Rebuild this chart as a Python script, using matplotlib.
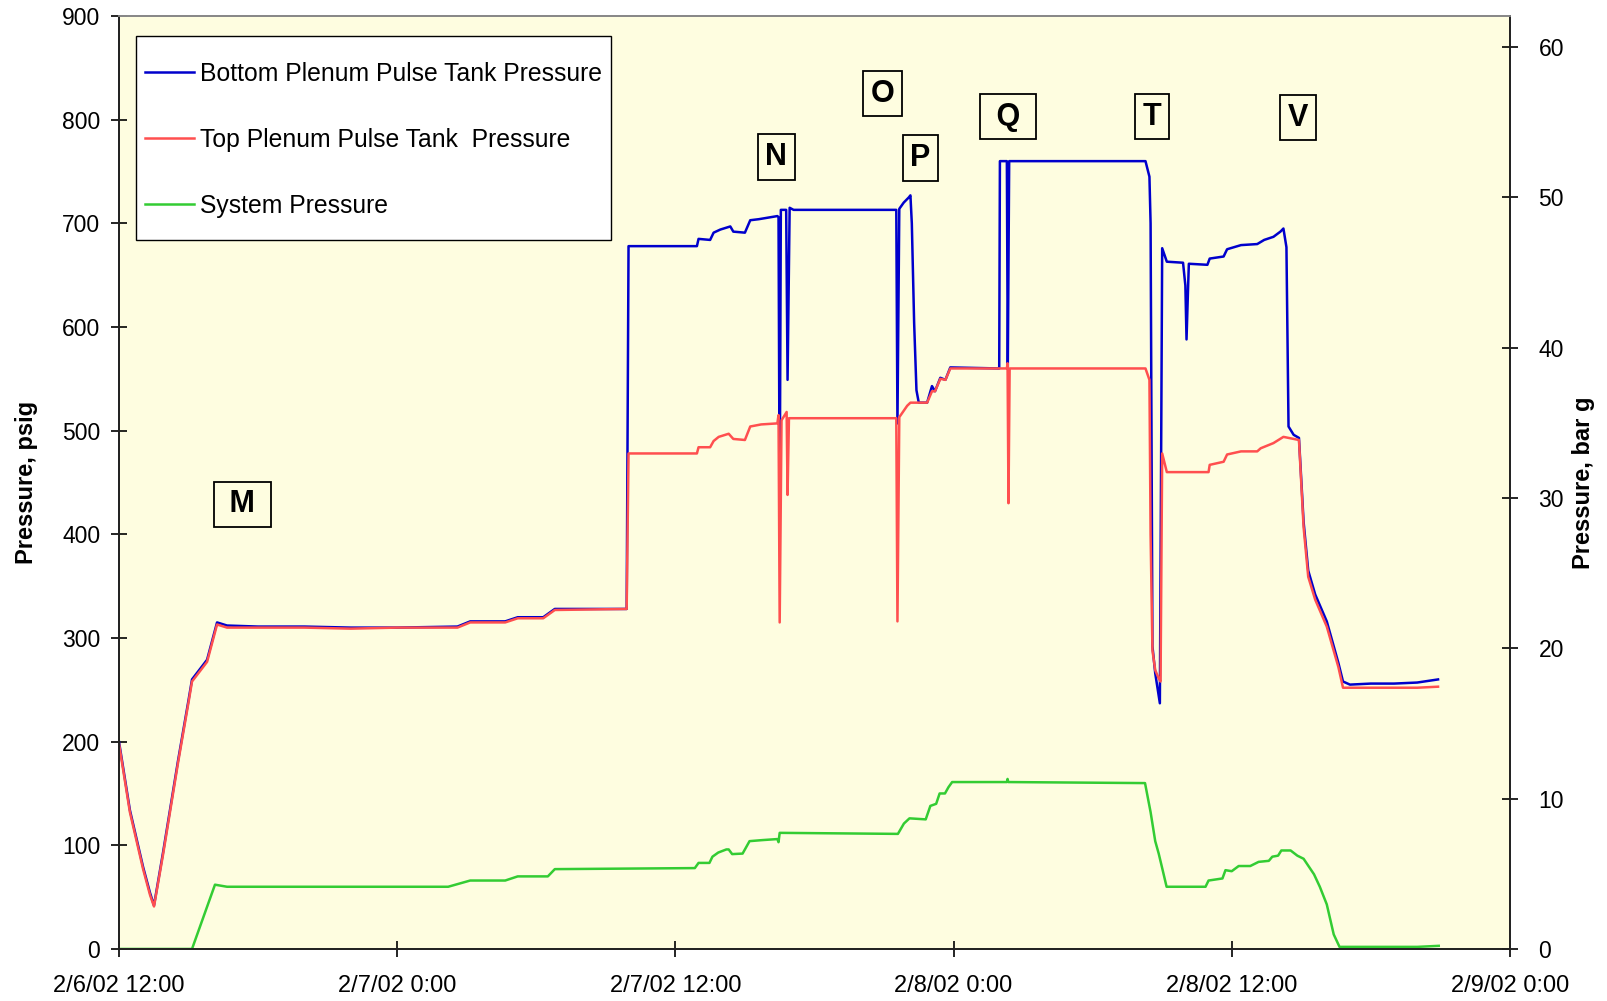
import matplotlib
matplotlib.use("Agg")
import matplotlib.pyplot as plt
from matplotlib.patches import Rectangle

plt.rcParams["font.family"] = ["Liberation Sans", "DejaVu Sans"]

# hours after 2/6/02 12:00
TICK_HOURS = [0, 12, 24, 36, 48, 60]
TICK_LABELS = ["2/6/02 12:00", "2/7/02 0:00", "2/7/02 12:00",
               "2/8/02 0:00", "2/8/02 12:00", "2/9/02 0:00"]

BOTTOM_T = [0, 0.47, 1.04, 1.34, 1.51, 1.9, 2.55, 3.0, 3.15, 3.63, 3.8, 4.23, 4.66,
            6, 8, 10, 12, 14.6, 15.15, 16.66, 17.2, 18.3, 18.8, 21.9, 21.98,
            24.93, 25.0, 25.5, 25.65, 25.94, 26.37, 26.5, 27.0, 27.23, 27.6, 28.4,
            28.45, 28.5, 28.55, 28.78, 28.84, 28.93, 29.1, 33.53, 33.58, 33.66,
            33.85, 34.07, 34.14, 34.2, 34.3, 34.4, 34.5, 34.86, 35.07, 35.2, 35.43,
            35.65, 35.86, 37.97, 38.0, 38.3, 38.34, 38.4, 44.28, 44.45, 44.5,
            44.58, 44.7, 44.9, 45.0, 45.2, 45.9, 46.0, 46.05, 46.12, 46.15, 46.95,
            47.05, 47.65, 47.8, 48.4, 49.1, 49.4, 49.8, 50.1, 50.23, 50.36, 50.45,
            50.67, 50.9, 51.1, 51.3, 51.6, 52.1, 52.6, 52.8, 53.1, 54, 55, 56, 56.9]
BOTTOM_P = [200, 134, 79, 54, 42, 93, 182, 240, 260, 274, 279, 315, 312,
            311, 311, 310, 310, 311, 316, 316, 320, 320, 328, 328, 678,
            678, 685, 684, 691, 694, 697, 692, 691, 703, 704, 707,
            706, 422, 713, 713, 549, 715, 713, 713, 507, 714,
            720, 725, 727, 700, 604, 539, 527, 527, 543, 538, 551,
            549, 561, 560, 760, 760, 560, 760, 760, 745, 700,
            292, 266, 237, 676, 663, 662, 640, 588, 640, 661, 660,
            666, 668, 675, 679, 680, 684, 687, 692, 695, 677, 504,
            496, 493, 412, 365, 342, 316, 276, 258, 255, 256, 256, 257, 260]

TOP_T = [0, 0.47, 1.04, 1.34, 1.51, 1.9, 2.55, 3.0, 3.15, 3.63, 3.8, 4.23, 4.66,
         6, 8, 10, 12, 14.6, 15.15, 16.66, 17.2, 18.3, 18.8, 21.9, 21.98,
         24.93, 25.0, 25.5, 25.65, 25.87, 26.3, 26.5, 27.0, 27.23, 27.7, 28.4,
         28.45, 28.5, 28.58, 28.8, 28.84, 28.9, 33.53, 33.58, 33.66, 34.0, 34.14,
         34.86, 35.07, 35.2, 35.43, 35.65, 35.86, 38.3, 38.33, 38.37, 38.42,
         44.28, 44.45, 44.5, 44.58, 44.7, 44.85, 44.93, 45.0, 45.2, 47.0, 47.05,
         47.65, 47.8, 48.4, 49.1, 49.25, 49.8, 50.23, 50.9, 51.1, 51.3, 51.6,
         52.1, 52.6, 52.8, 54, 56, 56.9]
TOP_P = [198, 132, 77, 52, 41, 91, 180, 238, 258, 272, 277, 313, 310,
         310, 310, 309, 310, 310, 315, 315, 319, 319, 327, 328, 478,
         478, 484, 484, 490, 494, 497, 492, 491, 504, 506, 507,
         515, 315, 510, 518, 438, 512, 512, 316, 513, 524, 527,
         527, 538, 538, 550, 549, 560, 560, 565, 430, 560,
         560, 549, 400, 288, 269, 261, 258, 478, 460, 460, 467,
         470, 477, 480, 480, 483, 488, 494, 491, 407, 359, 337,
         311, 272, 252, 252, 252, 253]

SYSTEM_T = [0, 3.15, 4.14, 4.66, 14.2, 15.15, 16.66, 17.2, 18.5, 18.8, 24.84, 25.0,
            25.47, 25.6, 25.85, 26.2, 26.3, 26.45, 26.9, 27.2, 27.75, 28.4, 28.45,
            28.5, 33.6, 33.86, 34.1, 34.8, 35.0, 35.25, 35.4, 35.63, 35.78, 35.94,
            38.3, 38.33, 38.36, 44.26, 44.5, 44.7, 44.85, 45.0, 45.19, 46.87, 47.0,
            47.6, 47.73, 48.0, 48.3, 48.8, 49.16, 49.6, 49.75, 50.0, 50.14, 50.54,
            50.83, 51.1, 51.55, 51.8, 52.1, 52.4, 52.65, 56.0, 56.93]
SYSTEM_P = [0, 0, 62, 60, 60, 66, 66, 70, 70, 77, 78, 83,
            83, 89, 93, 96, 96, 91.5, 92, 104, 105, 106, 103,
            112, 111, 121, 126, 125, 138, 140, 150, 150, 156, 161,
            161, 164, 161, 160, 132, 104, 92, 78, 60, 60, 66,
            68, 76, 75, 80, 80, 84, 85, 89, 90, 95, 95,
            90, 87, 72, 60, 43, 14, 2, 2, 3]

# event markers: (text, hour, psig)
EVENT_TEXT = [" M ", "N", "O", "P", " Q ", "T", "V"]
EVENT_T = [5.33, 28.35, 32.93, 34.57, 38.37, 44.55, 50.85]
EVENT_P = [429, 764, 825, 763, 803, 803, 802]

PSI_PER_BAR = 14.5038
BG = "#FEFDE0"

fig = plt.figure(figsize=(16.08, 10.01), dpi=100)
ax = fig.add_axes([0.074, 0.052, 0.865, 0.932])
ax.set_facecolor(BG)

ax.plot(BOTTOM_T, BOTTOM_P, color="#0000CC", lw=1.8, label="Bottom Plenum Pulse Tank Pressure")
ax.plot(TOP_T, TOP_P, color="#FF4F4F", lw=1.8, label="Top Plenum Pulse Tank  Pressure")
ax.plot(SYSTEM_T, SYSTEM_P, color="#33CC33", lw=1.8, label="System Pressure")

for s, t, p in zip(EVENT_TEXT, EVENT_T, EVENT_P):
    ax.text(t, p, s, ha="center", va="center", fontsize=22, fontweight="bold",
            bbox=dict(boxstyle="square,pad=0.25", fc=BG, ec="black", lw=1.3), zorder=6)

ax.set_xlim(0, 60)
ax.set_ylim(0, 900)
ax.set_xticks(TICK_HOURS)
ax.set_xticklabels(TICK_LABELS)
ax.set_yticks(range(0, 901, 100))
ax.tick_params(axis="x", direction="inout", length=11, width=1.2, labelsize=17, pad=13)
ax.tick_params(axis="y", direction="inout", length=11, width=1.2, labelsize=16.5, pad=8)

lab_font = dict(family=["Liberation Sans Narrow", "Liberation Sans"], fontweight="bold", fontsize=17)
ax.set_ylabel("Pressure, psig", labelpad=17, **lab_font)

ax2 = ax.twinx()
ax2.set_ylim(0, 900 / PSI_PER_BAR)
ax2.set_yticks(range(0, 61, 10))
ax2.tick_params(axis="y", direction="inout", length=11, width=1.2, labelsize=16.5, pad=15)
ax2.set_ylabel("Pressure, bar g", labelpad=6, **lab_font)

for a in (ax, ax2):
    for side in ("left", "bottom", "right"):
        a.spines[side].set_color("#222222")
        a.spines[side].set_linewidth(1.3)
    a.spines["top"].set_color("#888888")
    a.spines["top"].set_linewidth(1.3)

# legend frame drawn separately so the box can be taller than the entries need
ax.add_patch(Rectangle((0.0122, 0.760), 0.3415, 0.2186, transform=ax.transAxes,
                       fc="white", ec="black", lw=1.0, zorder=4))
leg = ax.legend(loc="upper left", bbox_to_anchor=(0.0122, 0.9605), borderaxespad=0,
                fontsize=17.8, labelspacing=1.7, handlelength=2.0,
                handletextpad=0.25, borderpad=0.35, frameon=False)
leg.set_zorder(5)

fig.savefig("out.png", dpi=100)
